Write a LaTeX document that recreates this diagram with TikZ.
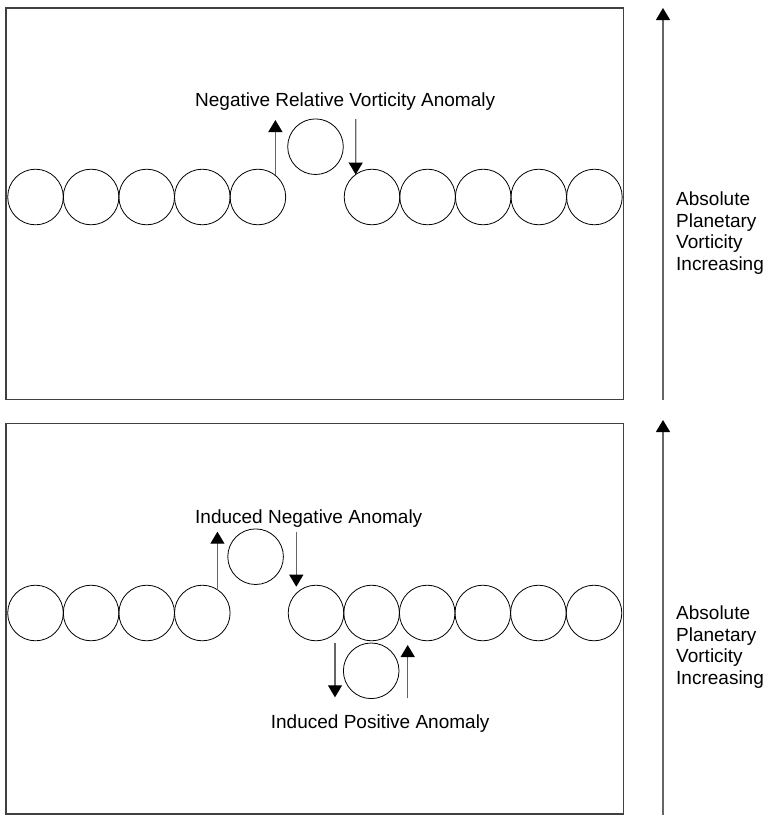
\documentclass[tikz,border=0pt]{standalone}
\usepackage{fontspec}
\setmainfont{Liberation Sans}
\usetikzlibrary{arrows.meta}
\begin{document}
\begin{tikzpicture}[x=1pt,y=-1pt,
  panel/.style={draw=black!75,line width=1.2pt},
  vortex/.style={circle,draw=black,line width=0.8pt,minimum size=55.6pt,inner sep=0pt,outer sep=0pt},
  flow/.style={draw=black!60,line width=1.2pt,-{Triangle[width=14pt,length=12pt,color=black]}},
  label/.style={inner sep=0pt,font=\fontsize{19}{21.5}\selectfont,text=black},
  sidelabel/.style={label,align=left,anchor=base west}]
\useasboundingbox (0,0) rectangle (767,815);

% ---------- upper panel ----------
\draw[panel] (6,8) rectangle (623.5,399.5);
\foreach \i in {0,...,4}{
  \node[vortex] (a\i) at ({35.5+55.6*\i},197) {};
  \node[vortex] (b\i) at ({372+55.6*\i},197) {};
}
\node[vortex] (anomA) at (315.5,146.7) {};
\coordinate (upA) at (0,120);
\coordinate (dnA) at (355.8,119);
\draw[flow] (a4.51) -- (a4.51 |- upA);
\draw[flow] (dnA) -- (b0.126);
\node[label,anchor=base west] (txtA) at (195,106.7) {Negative Relative Vorticity Anomaly};

\coordinate (axA0) at (663,399.5);
\coordinate (axA1) at (663,8);
\draw[flow] (axA0) -- (axA1);
% the base anchor of a multi-line node sits on its last line
\node[sidelabel] (sideA) at (676,270) {Absolute\\Planetary\\Vorticity\\Increasing};

% ---------- lower panel ----------
\draw[panel] (6,423.5) rectangle (623.5,814);
\foreach \i in {0,...,3}{
  \node[vortex] (c\i) at ({35.5+55.6*\i},613) {};
}
\foreach \i in {0,...,5}{
  \node[vortex] (d\i) at ({316+55.6*\i},613) {};
}
\node[vortex] (anomB) at (255.6,556.7) {};
\node[vortex] (anomC) at (371.2,670.8) {};

\coordinate (upB) at (0,531.7);
\draw[flow] (c3.57) -- (c3.57 |- upB);
\coordinate (dnB0) at (296.3,531.7);
\coordinate (dnB1) at (296.3,586.7);
\draw[flow] (dnB0) -- (dnB1);
\coordinate (dnC0) at (335,643.3);
\coordinate (dnC1) at (335,697.3);
\draw[flow] (dnC0) -- (dnC1);
\coordinate (upC0) at (407.7,698.3);
\coordinate (upC1) at (407.7,645);
\draw[flow] (upC0) -- (upC1);

\node[label,anchor=base west] (txtB) at (195,523.3) {Induced Negative Anomaly};
\node[label,anchor=base west] (txtC) at (270.7,728.3) {Induced Positive Anomaly};

\coordinate (axB0) at (663,815);
\coordinate (axB1) at (663,420);
\draw[flow] (axB0) -- (axB1);
\node[sidelabel] (sideB) at (676,684) {Absolute\\Planetary\\Vorticity\\Increasing};
\end{tikzpicture}
\end{document}
